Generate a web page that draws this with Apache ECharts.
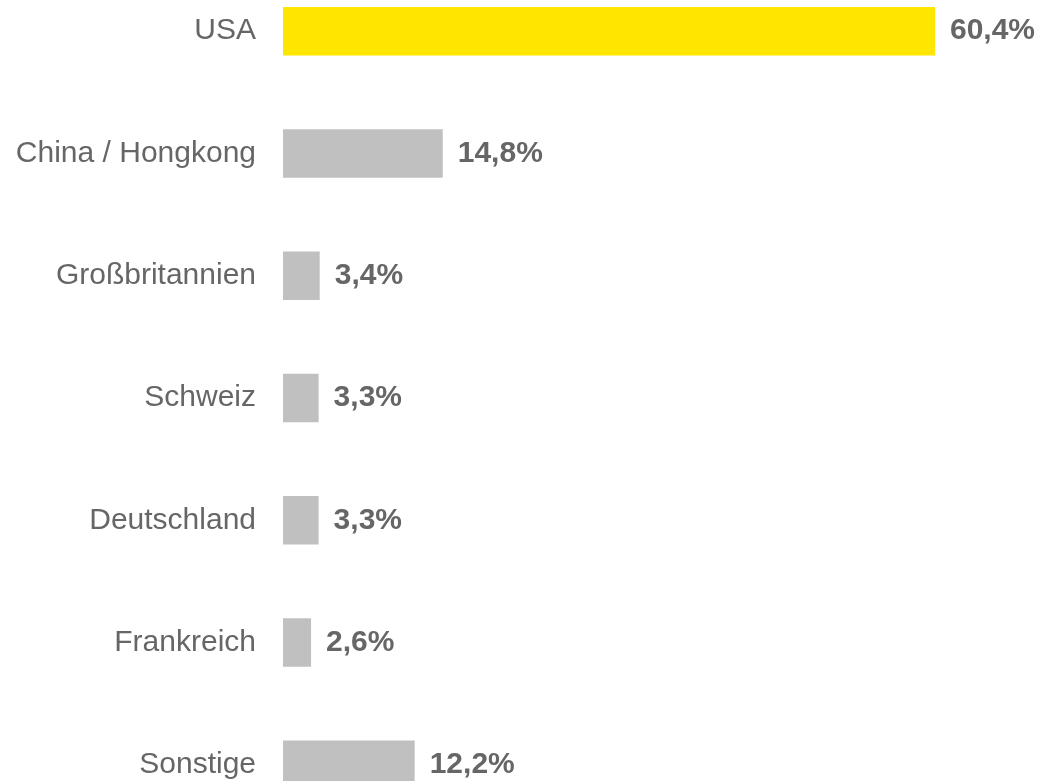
<!DOCTYPE html>
<html>
<head>
<meta charset="utf-8">
<script src="https://cdn.jsdelivr.net/npm/echarts@6/dist/echarts.min.js"></script>
<style>html,body{margin:0;padding:0;background:#fff;overflow:hidden;width:1043px;height:781px;position:relative;}#c{position:absolute;left:0;top:-29.85px;width:1043px;height:856px;}</style>
</head>
<body>
<div id="c"></div>
<script>
const categories = ['USA', 'China / Hongkong', 'Großbritannien', 'Schweiz', 'Deutschland', 'Frankreich', 'Sonstige'];
const values = [60.4, 14.8, 3.4, 3.3, 3.3, 2.6, 12.2];
const highlightColor = '#FFE600';
const baseColor = '#C0C0C0';

const chart = echarts.init(document.getElementById('c'));
chart.setOption({
  animation: false,
  backgroundColor: '#ffffff',
  grid: { left: 283, right: 4.4, top: 0, bottom: 0, containLabel: false },
  xAxis: { type: 'value', min: 0, max: 70, show: false },
  yAxis: {
    type: 'category',
    data: categories,
    inverse: true,
    axisLine: { show: false },
    axisTick: { show: false },
    splitLine: { show: false },
    axisLabel: {
      margin: 27,
      color: '#666666',
      fontFamily: 'Liberation Sans, Arial, sans-serif',
      fontSize: 30
    }
  },
  series: [{
    type: 'bar',
    barWidth: 48.5,
    data: values.map((v, i) => ({ value: v, itemStyle: { color: i === 0 ? highlightColor : baseColor } })),
    label: {
      show: true,
      position: 'right',
      distance: 15,
      color: '#666666',
      fontFamily: 'Liberation Sans, Arial, sans-serif',
      fontSize: 30,
      fontWeight: 'bold',
      formatter: p => p.value.toFixed(1).replace('.', ',') + '%'
    }
  }]
});
</script>
</body>
</html>
